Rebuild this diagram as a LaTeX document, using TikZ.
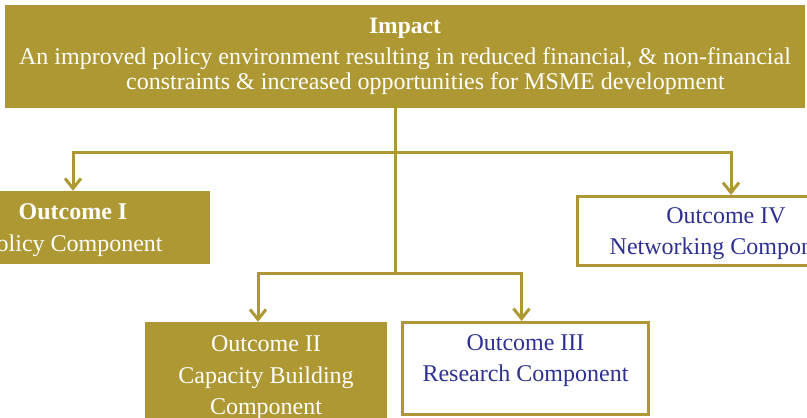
\documentclass[tikz,border=0pt]{standalone}
\usepackage{fontspec}
\setmainfont{Liberation Serif}
\usepackage{xcolor}
\usetikzlibrary{arrows.meta}
\definecolor{mygold}{RGB}{173,152,51}
\definecolor{mynavy}{RGB}{46,49,146}
\tikzset{
  fullbox/.style={fill=mygold,text=white,align=center,inner sep=0pt,
    font=\fontsize{24}{31.5}\selectfont},
  openbox/.style={draw=mygold,line width=3pt,fill=white,text=mynavy,align=center,
    inner sep=0pt,font=\fontsize{24}{31.5}\selectfont},
  link/.style={mygold,line width=3pt,-{Straight Barb[length=10pt,width=16pt]}},
}

\begin{document}
\begin{tikzpicture}[x=1pt,y=-1pt]
  \useasboundingbox (0,0) rectangle (807,418);
  \clip (0,0) rectangle (807,418);

  % BOXES
  \node[fullbox,minimum width=800pt,minimum height=103pt,
    font=\fontsize{24}{25}\selectfont] (impact) at (405,56.5)
    {{\fontsize{23.5}{25}\selectfont\bfseries Impact}\\[6pt]
     An improved policy environment resulting in reduced financial, \& non-financial\\
     \hspace*{41pt}constraints \& increased opportunities for MSME development};
  \node[fullbox,minimum width=274pt,minimum height=73pt,text depth=-1pt] (outI) at (73,227.5)
    {\textbf{Outcome I}\\Policy Component};
  \node[openbox,minimum width=297pt,minimum height=69pt,text depth=-2.8pt] (outIV) at (726,231)
    {Outcome IV\\Networking Component};
  \node[fullbox,minimum width=242pt,minimum height=108pt,text depth=1.2pt] (outII) at (266,376)
    {Outcome II\\Capacity Building\\Component};
  \node[openbox,minimum width=246pt,minimum height=92pt,text depth=21pt] (outIII) at (525.5,368.5)
    {Outcome III\\Research Component};

  % ARROWS
  \coordinate (fork1) at (395,152);
  \coordinate (fork2) at (395,273);
  \draw[mygold,line width=3pt] (impact.south -| fork1) -- (fork2);
  \draw[link] (fork1) -| (outI.north);
  \draw[link] (fork1) -| ([xshift=5pt]outIV.north);
  \draw[link] (fork2) -| ([xshift=-8pt]outII.north);
  \draw[link] (fork2) -| ([xshift=-4pt]outIII.north);

\end{tikzpicture}
\end{document}
